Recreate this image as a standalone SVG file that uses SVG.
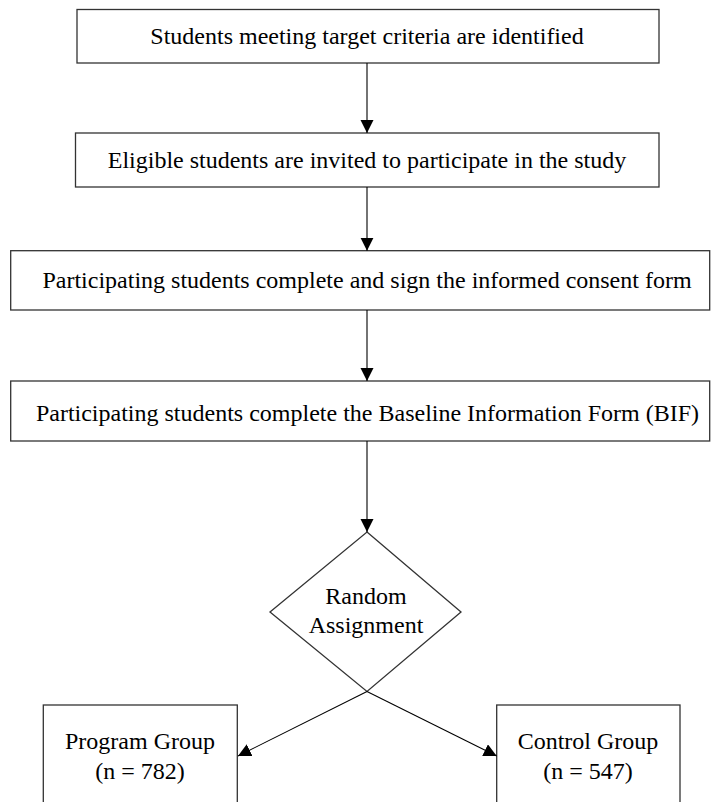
<svg xmlns="http://www.w3.org/2000/svg" width="711" height="802" viewBox="0 0 711 802">
<style>
.box{fill:#fff;stroke:#333;stroke-width:1.3}
.t{font-family:"Liberation Serif","Times New Roman",serif;font-size:24px;fill:#000;text-anchor:middle}
.c{fill:none;stroke:#000;stroke-width:1.1}
</style>
<defs>
<marker id="ah" markerUnits="userSpaceOnUse" markerWidth="14" markerHeight="14" refX="13" refY="6.5" orient="auto" viewBox="0 0 14 14">
<path d="M0,0 L13,6.5 L0,13 Z" fill="#000"/>
</marker>
</defs>
<rect width="711" height="802" fill="#fff"/>
<g id="n1"><rect class="box" x="77" y="9.5" width="582" height="53.5"/><text class="t" x="367" y="43.5">Students meeting target criteria are identified</text></g>
<g id="n2"><rect class="box" x="75.5" y="133" width="583.5" height="54"/><text class="t" x="367" y="168">Eligible students are invited to participate in the study</text></g>
<g id="n3"><rect class="box" x="10.7" y="250.7" width="699" height="59.3"/><text class="t" x="367" y="288.3">Participating students complete and sign the informed consent form</text></g>
<g id="n4"><rect class="box" x="10.7" y="381" width="699" height="60"/><text class="t" x="367.5" y="420.5">Participating students complete the Baseline Information Form (BIF)</text></g>
<g id="n5"><polygon class="box" points="367,532 461,612 367,691.5 270,612"/><text class="t" x="366" y="604">Random</text><text class="t" x="366" y="633">Assignment</text></g>
<g id="n6"><rect class="box" x="43.3" y="705" width="194" height="110"/><text class="t" x="140" y="749">Program Group</text><text class="t" x="140" y="779">(n = 782)</text></g>
<g id="n7"><rect class="box" x="496.7" y="705" width="183.3" height="110"/><text class="t" x="588" y="749">Control Group</text><text class="t" x="588" y="779">(n = 547)</text></g>
<g id="connectors">
<line class="c" x1="367" y1="63" x2="367" y2="133" marker-end="url(#ah)"/>
<line class="c" x1="367" y1="187" x2="367" y2="250.7" marker-end="url(#ah)"/>
<line class="c" x1="367" y1="310" x2="367" y2="381" marker-end="url(#ah)"/>
<line class="c" x1="367" y1="441" x2="367" y2="532" marker-end="url(#ah)"/>
<line class="c" x1="367" y1="691.5" x2="238" y2="756" marker-end="url(#ah)"/>
<line class="c" x1="367" y1="691.5" x2="496.7" y2="756" marker-end="url(#ah)"/>
</g>
</svg>
